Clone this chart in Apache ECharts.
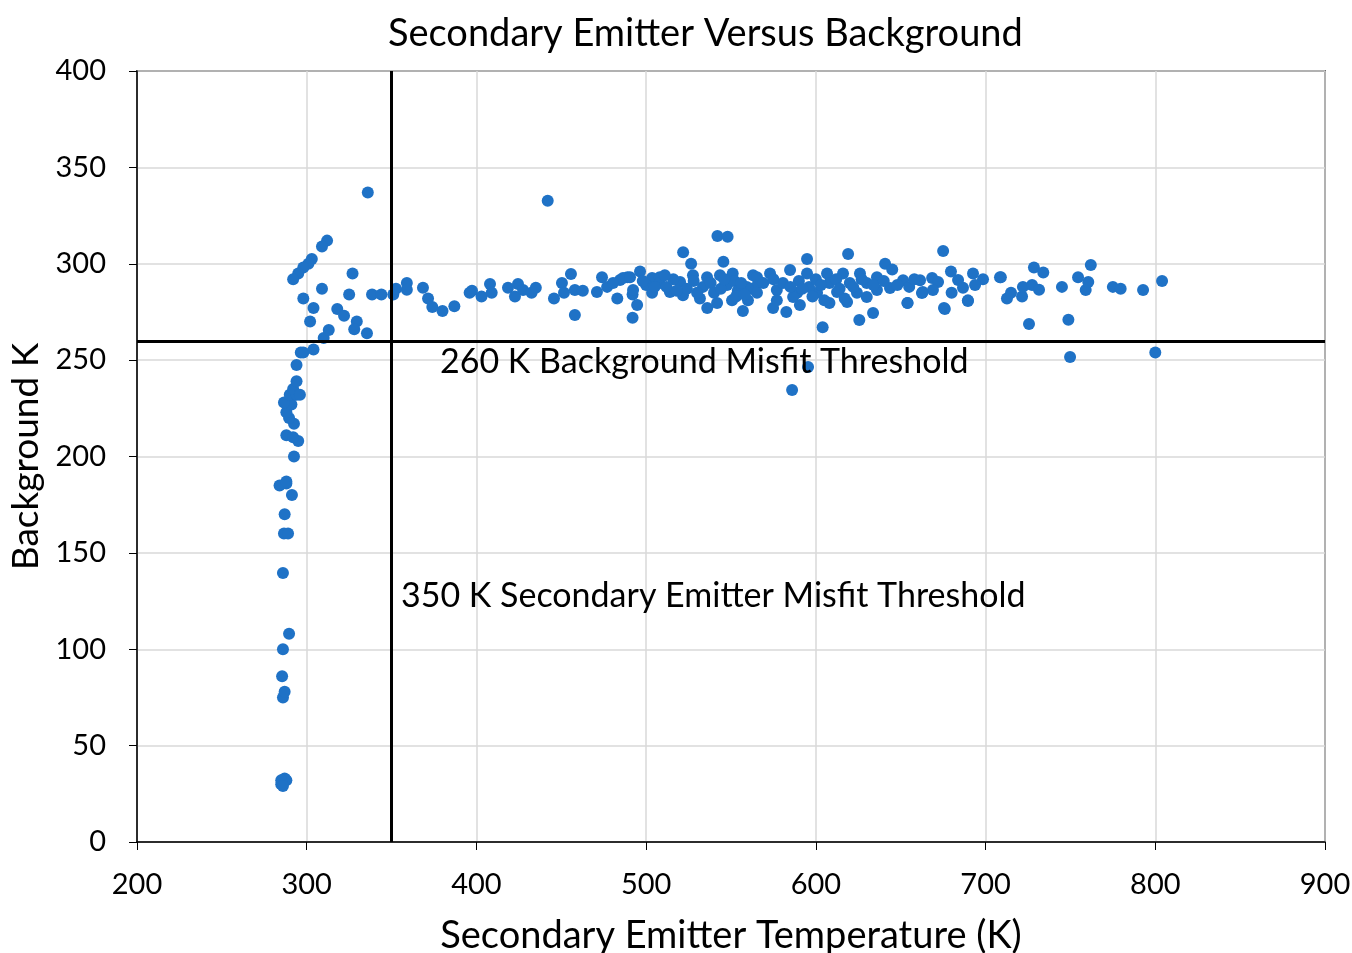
<!DOCTYPE html>
<html>
<head>
<meta charset="utf-8">
<title>Secondary Emitter Versus Background</title>
<script src="https://cdn.jsdelivr.net/npm/echarts@6/dist/echarts.min.js"></script>
<style>
  html, body { margin: 0; padding: 0; background: #fff; overflow: hidden; }
  #chart { width: 1352px; height: 953px; }
</style>
</head>
<body>
<div id="chart"></div>
<script>
// Secondary emitter temperature (K) vs background temperature (K)

// Near-ambient emitters with very cold backgrounds
const coldBackground = [
  [285, 30], [286, 31], [287, 33], [288, 32], [285, 32], [286, 29],
  [286, 75], [287, 78], [285.5, 86], [286, 100], [289.6, 108], [286, 139.6],
  [286.6, 160], [289, 160], [287, 170], [291.3, 180], [288, 186], [284, 185],
  [288, 187], [292.5, 200], [295, 208], [288, 211], [292, 210], [292.5, 217],
  [289.6, 220], [288, 223], [291, 227], [286.6, 228], [290, 232], [294, 232],
  [292, 235], [294, 239], [296, 232], [294, 247.5], [296.5, 254], [298, 254],
  [304, 255.5], [310, 261.5], [313, 265.6]
];

// Rising branch and scatter just around the 350 K threshold
const nearThreshold = [
  [336, 337], [312, 312], [309, 309], [303, 302.5], [301, 300], [298, 298],
  [295, 295], [292, 292], [327, 295], [298, 282], [309, 287], [325, 284],
  [304, 277], [302, 270], [318, 276.5], [322, 273], [329.5, 270], [328, 266],
  [335.5, 264], [338.5, 284], [344, 284], [351, 284], [352.6, 287], [359, 290],
  [359, 286.5], [368.5, 287.5], [371.5, 282], [374, 277.6], [380, 275.5],
  [387, 278]
];

// Main population hovering around 290 K background
const plateau = [
  [397.4, 286], [396, 285], [403, 283], [408, 289.5], [409, 285], [418.6, 287.5],
  [422.7, 283], [424.5, 289.5], [427.5, 286.4], [432.5, 285], [435, 287.5],
  [442, 332.7], [445.7, 282], [450.4, 290], [451.6, 285], [455.7, 294.7],
  [458, 286.4], [462.7, 286], [458, 273.4], [471, 285.3], [474, 293],
  [477, 288], [483, 282], [484.6, 291.6], [489, 293], [492, 272], [494.7, 278.6],
  [492, 284], [496.4, 296], [480.5, 290], [486.4, 292.6], [490.5, 293],
  [492.3, 286.4], [503.5, 292.6], [508, 293], [503.5, 285], [514, 285.3],
  [521.7, 283.7], [527.6, 294], [535.9, 293], [543.5, 294], [551, 295],
  [563, 294], [531.7, 282], [541.8, 279.6], [550.6, 281], [560, 281],
  [508, 290], [520, 290.5], [533.5, 288], [547.7, 289], [559.3, 288],
  [521.8, 306], [526.5, 300], [542, 314.4], [548, 314], [545.5, 301],
  [536, 277], [557, 275.5], [512, 288], [516, 292], [524, 287], [528, 291],
  [538, 290], [540, 285], [544, 287], [552, 291], [554, 286], [556, 290],
  [562, 287], [566, 290], [500, 289], [498, 291], [505, 288], [511, 294],
  [518, 286], [530, 285], [546, 292], [553, 283], [558, 284],
  [594.8, 302.5], [619, 305], [640.8, 300], [645, 297], [574.8, 277],
  [582.6, 275], [590.6, 278.6], [604, 267], [608, 279.6], [618.4, 280.2],
  [625.6, 270.8], [633.7, 274.5], [630, 282.8], [654, 279.6], [662.5, 284.8],
  [661.4, 291.5], [651.4, 291.5], [643.7, 287.4], [565.3, 293], [573, 295],
  [584.8, 296.8], [594.8, 295], [606.6, 295], [616, 295], [626, 295],
  [636, 293], [565.3, 285], [577, 286.4], [589, 285], [600.7, 285],
  [612.5, 285.3], [624.2, 285], [636, 286.4], [569, 290], [580.6, 290],
  [608, 290], [620, 290], [630, 290], [577, 281], [586.6, 282.8], [617, 282],
  [590, 291], [596, 288], [600, 292], [603, 289], [612, 292], [622, 288],
  [627, 292], [634, 289], [640, 291], [648, 289], [575, 292], [585, 288],
  [592, 287], [614, 287], [598, 283], [605, 281],
  [675, 306.6], [676, 276.5], [679.6, 296], [692.6, 295], [668.5, 292.6],
  [672, 290.5], [683.8, 291.6], [698.5, 292], [708.5, 293], [663, 285.3],
  [669, 286.4], [680, 285], [686.7, 287.6], [693.8, 289], [689.6, 281],
  [675.5, 277], [654, 279.7], [689.6, 280.7], [709, 293], [712.6, 282],
  [715, 285], [721.5, 283], [722, 288], [728.5, 298], [734, 295.4],
  [727.4, 289], [731.5, 286.5], [725.6, 268.7], [745, 288], [748.8, 271],
  [754.5, 293], [762, 299.4], [759, 286.4], [760.5, 290.5], [775, 288],
  [779.6, 287], [792.8, 286.4], [804, 291], [655, 288], [658, 292]
];

// Points falling below the 260 K background threshold
const belowThreshold = [
  [595.4, 246.4], [586, 234.5], [749.8, 251.6], [800, 254]
];

const xTicks = [200, 300, 400, 500, 600, 700, 800, 900];
const yTicks = [0, 50, 100, 150, 200, 250, 300, 350, 400];
const emitterThreshold = 350;
const backgroundThreshold = 260;

const font = 'Lato, "Open Sans", sans-serif';
const chart = echarts.init(document.getElementById('chart'), null, { renderer: 'canvas', width: 1352, height: 953 });

chart.setOption({
  animation: false,
  backgroundColor: '#ffffff',
  title: {
    text: 'Secondary Emitter Versus Background',
    left: 383,
    top: 10,
    textStyle: { fontFamily: font, fontSize: 38, fontWeight: 'normal', color: '#000' }
  },
  grid: {
    left: 137, width: 1188, top: 71, height: 771,
    outerBoundsMode: 'none',
    containLabel: false,
    show: true, borderColor: '#000', borderWidth: 1.5
  },
  xAxis: {
    type: 'value',
    min: xTicks[0],
    max: xTicks[xTicks.length - 1],
    interval: 100,
    name: 'Secondary Emitter Temperature (K)',
    nameLocation: 'middle',
    nameGap: 75,
    nameTextStyle: { fontFamily: font, fontSize: 38, color: '#000' },
    axisLine: { lineStyle: { color: '#000', width: 1.5 } },
    axisTick: { show: true, inside: false, length: 8, lineStyle: { color: '#000' } },
    axisLabel: { fontFamily: font, fontSize: 29, color: '#000', margin: 28 },
    splitLine: { show: true, lineStyle: { color: '#d9d9d9', width: 1.5 } }
  },
  yAxis: {
    type: 'value',
    min: yTicks[0],
    max: yTicks[yTicks.length - 1],
    interval: 50,
    name: 'Background K',
    nameLocation: 'middle',
    nameGap: 92,
    nameTextStyle: { fontFamily: font, fontSize: 37, color: '#000' },
    axisLine: { lineStyle: { color: '#000', width: 1.5 } },
    axisTick: { show: true, inside: false, length: 8, lineStyle: { color: '#000' } },
    axisLabel: { fontFamily: font, fontSize: 29, color: '#000', margin: 31 },
    splitLine: { show: true, lineStyle: { color: '#d9d9d9', width: 1.5 } }
  },
  series: [
    {
      type: 'scatter',
      symbolSize: 12,
      itemStyle: { color: '#1f72c6', opacity: 1 },
      data: [].concat(coldBackground, nearThreshold, plateau, belowThreshold),
      markLine: {
        silent: true,
        symbol: 'none',
        label: { show: false },
        lineStyle: { color: '#000', width: 3, type: 'solid' },
        data: [
          { xAxis: emitterThreshold },
          { yAxis: backgroundThreshold }
        ]
      }
    }
  ],
  graphic: [
    {
      type: 'text', left: 440, top: 345, z: 100,
      style: { text: '260 K Background Misfit Threshold', font: '34px ' + font, fill: '#000' }
    },
    {
      type: 'text', left: 401, top: 579, z: 100,
      style: { text: '350 K Secondary Emitter Misfit Threshold', font: '34px ' + font, fill: '#000' }
    }
  ]
});
</script>
</body>
</html>
